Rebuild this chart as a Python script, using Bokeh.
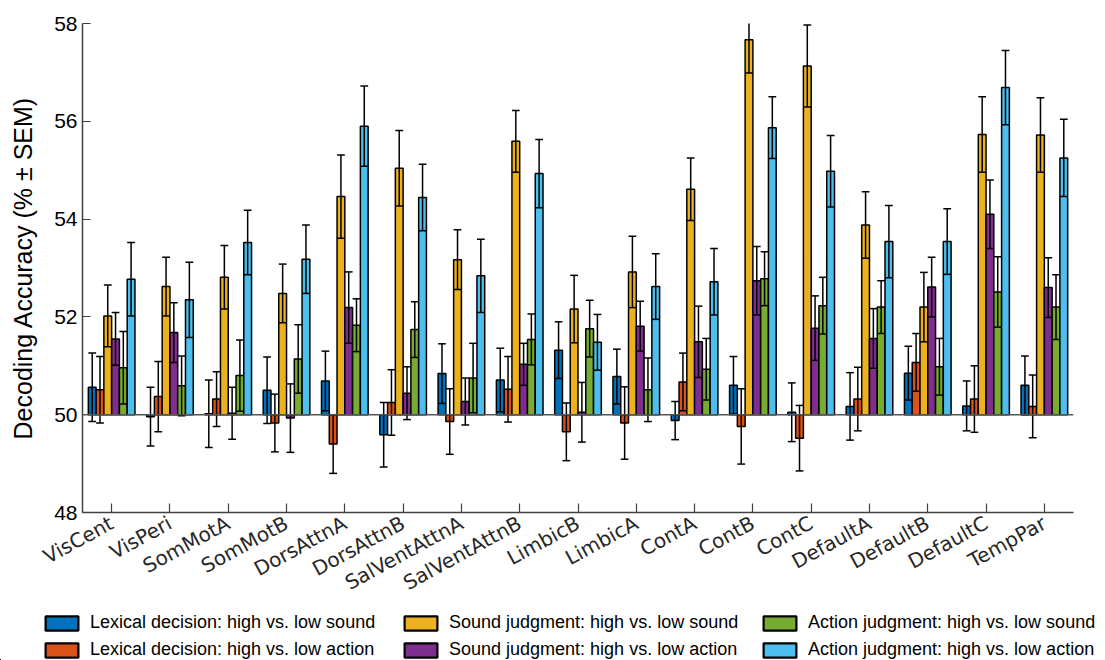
from bokeh.plotting import figure
from bokeh.layouts import column
from bokeh.models import Range1d, FixedTicker, Legend, LegendItem, Span
from bokeh.embed import file_html
from bokeh.resources import INLINE

networks = ["VisCent", "VisPeri", "SomMotA", "SomMotB", "DorsAttnA", "DorsAttnB",
            "SalVentAttnA", "SalVentAttnB", "LimbicB", "LimbicA", "ContA", "ContB",
            "ContC", "DefaultA", "DefaultB", "DefaultC", "TempPar"]

series_labels = ["Lexical decision: high vs. low sound",
                 "Lexical decision: high vs. low action",
                 "Sound judgment: high vs. low sound",
                 "Sound judgment: high vs. low action",
                 "Action judgment: high vs. low sound",
                 "Action judgment: high vs. low action"]

series_colors = ["#0072BD", "#D95319", "#EDB120", "#7E2F8E", "#77AC30", "#4DBEEE"]

lex_sound = [50.56, 49.96, 50.02, 50.50, 50.69, 49.59, 50.84, 50.71, 51.32, 50.78, 49.88, 50.60, 50.05, 50.17, 50.85, 50.18, 50.60]
lex_sound_sem = [0.70, 0.60, 0.69, 0.68, 0.61, 0.66, 0.61, 0.65, 0.58, 0.56, 0.39, 0.59, 0.60, 0.69, 0.55, 0.51, 0.60]

lex_action = [50.51, 50.37, 50.32, 49.83, 49.40, 50.25, 49.86, 50.52, 49.65, 49.83, 50.67, 49.76, 49.52, 50.32, 51.07, 50.32, 50.17]
lex_action_sem = [0.68, 0.72, 0.56, 0.59, 0.60, 0.67, 0.67, 0.67, 0.59, 0.74, 0.59, 0.77, 0.67, 0.65, 0.59, 0.68, 0.64]

snd_sound = [52.02, 52.62, 52.81, 52.48, 54.46, 55.04, 53.17, 55.59, 52.16, 52.92, 54.61, 57.67, 57.13, 53.88, 52.20, 55.73, 55.72]
snd_sound_sem = [0.63, 0.60, 0.65, 0.60, 0.85, 0.77, 0.61, 0.63, 0.69, 0.73, 0.64, 0.68, 0.84, 0.68, 0.71, 0.77, 0.76]

snd_action = [51.55, 51.68, 50.03, 49.93, 52.19, 50.44, 50.27, 51.03, 50.05, 51.81, 51.49, 52.74, 51.77, 51.56, 52.61, 54.10, 52.60]
snd_action_sem = [0.54, 0.61, 0.53, 0.70, 0.73, 0.54, 0.48, 0.43, 0.61, 0.51, 0.73, 0.70, 0.66, 0.61, 0.61, 0.70, 0.61]

act_sound = [50.96, 50.59, 50.80, 51.14, 51.83, 51.74, 50.75, 51.54, 51.76, 50.51, 50.93, 52.78, 52.23, 52.20, 50.98, 52.51, 52.20]
act_sound_sem = [0.74, 0.61, 0.73, 0.70, 0.54, 0.57, 0.71, 0.52, 0.58, 0.65, 0.63, 0.55, 0.58, 0.54, 0.58, 0.72, 0.66]

act_action = [52.77, 52.35, 53.52, 53.18, 55.90, 54.44, 52.84, 54.93, 51.48, 52.62, 52.72, 55.87, 54.98, 53.54, 53.54, 56.69, 55.25]
act_action_sem = [0.75, 0.77, 0.66, 0.70, 0.82, 0.68, 0.75, 0.70, 0.57, 0.67, 0.68, 0.63, 0.73, 0.74, 0.67, 0.76, 0.79]

y_ticks = [48, 50, 52, 54, 56, 58]
chance = 50

all_means = [lex_sound, lex_action, snd_sound, snd_action, act_sound, act_action]
all_sems = [lex_sound_sem, lex_action_sem, snd_sound_sem, snd_action_sem, act_sound_sem, act_action_sem]

n_series = len(all_means)
group_width = 0.8
bar_w = group_width / n_series
cap_half = bar_w * 0.5

FIG_W = 1097
p = figure(width=FIG_W, height=611, output_backend="svg", toolbar_location=None,
           x_range=Range1d(0.5, len(networks) + 0.5), y_range=Range1d(48, 58),
           min_border_left=82, min_border_right=24, min_border_top=23, min_border_bottom=99)
p.outline_line_color = None
p.grid.visible = False
p.background_fill_color = "white"

axis_color = "#404040"
font = "Liberation Sans"

# baseline at chance level
p.add_layout(Span(location=chance, dimension="width", line_color="#555555", line_width=1.5))

xs_group = list(range(1, len(networks) + 1))
for k in range(n_series):
    off = (k - (n_series - 1) / 2) * bar_w
    xs = [g + off for g in xs_group]
    p.vbar(x=xs, top=all_means[k], bottom=chance, width=bar_w,
           fill_color=series_colors[k], line_color="black", line_width=1.5)

for k in range(n_series):
    off = (k - (n_series - 1) / 2) * bar_w
    xs = [g + off for g in xs_group]
    lo = [m - s for m, s in zip(all_means[k], all_sems[k])]
    hi = [m + s for m, s in zip(all_means[k], all_sems[k])]
    p.segment(x0=xs, y0=lo, x1=xs, y1=hi, line_color="black", line_width=1.5)
    p.segment(x0=[x - cap_half for x in xs], y0=lo, x1=[x + cap_half for x in xs], y1=lo,
              line_color="black", line_width=1.5)
    p.segment(x0=[x - cap_half for x in xs], y0=hi, x1=[x + cap_half for x in xs], y1=hi,
              line_color="black", line_width=1.5)

# axes
xa = p.xaxis[0]
xa.ticker = FixedTicker(ticks=xs_group)
xa.major_label_overrides = {i + 1: n for i, n in enumerate(networks)}
xa.major_label_orientation = 0.5
xa.major_label_text_font = "DejaVu Sans"
xa.major_label_text_font_size = "20px"
xa.major_label_text_color = "#262626"
xa.major_label_standoff = 9
xa.major_tick_in = 9
xa.major_tick_out = 0
xa.minor_tick_line_color = None
xa.axis_line_color = axis_color
xa.axis_line_width = 1.5
xa.major_tick_line_color = axis_color
xa.major_tick_line_width = 1.2

ya = p.yaxis[0]
ya.ticker = FixedTicker(ticks=y_ticks)
ya.major_label_text_font = font
ya.major_label_text_font_size = "21px"
ya.major_label_text_color = "black"
ya.major_label_standoff = 5
ya.major_tick_in = 8
ya.major_tick_out = 0
ya.minor_tick_line_color = None
ya.axis_line_color = axis_color
ya.axis_line_width = 1.5
ya.major_tick_line_color = axis_color
ya.major_tick_line_width = 1.2
ya.axis_label = "Decoding Accuracy (% \u00b1 SEM)"
ya.axis_label_text_font = font
ya.axis_label_text_font_size = "25px"
ya.axis_label_text_font_style = "normal"
ya.axis_label_text_color = "black"
ya.axis_label_standoff = 14

# legend strip below the chart: same bar data, kept outside its visible ranges
lg = figure(width=FIG_W, height=49, output_backend="svg", toolbar_location=None,
            x_range=Range1d(100, 101), y_range=Range1d(100, 101),
            min_border_left=0, min_border_right=0, min_border_top=0, min_border_bottom=0,
            x_axis_location=None, y_axis_location=None)
try:
    lg.frame_align = False
except Exception:
    pass
lg.outline_line_color = None
lg.grid.visible = False
legend_renderers = []
for k in range(n_series):
    off = (k - (n_series - 1) / 2) * bar_w
    xs = [g + off for g in xs_group]
    r = lg.vbar(x=xs, top=all_means[k], bottom=chance, width=bar_w,
                fill_color=series_colors[k], line_color="black", line_width=2.2)
    legend_renderers.append(r)

items = [LegendItem(label=series_labels[k], renderers=[legend_renderers[k]], index=0)
         for k in range(n_series)]
legend = Legend(items=items, location=(41, 0), orientation="vertical",
                nrows=2, ncols=3, glyph_width=41, glyph_height=18, label_standoff=8,
                label_width=304, spacing=6, padding=0, margin=0,
                label_text_font=font, label_text_font_size="18px", label_text_color="black",
                border_line_color=None, background_fill_alpha=0)
lg.add_layout(legend, "center")

layout = column(p, lg, spacing=0)
open("out.html", "w").write(file_html(layout, INLINE))
